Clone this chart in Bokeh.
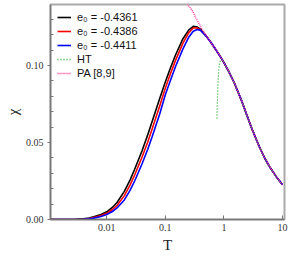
from bokeh.plotting import figure
from bokeh.models import FixedTicker, Range1d, NumeralTickFormatter
from bokeh.embed import file_html
from bokeh.resources import INLINE

# ---- data ----
T = [0.001, 0.002, 0.003, 0.004, 0.005, 0.006, 0.008, 0.01, 0.0125, 0.015,
     0.02, 0.025, 0.03, 0.04, 0.05, 0.06, 0.08, 0.1, 0.12, 0.15,
     0.2, 0.25, 0.3, 0.35, 0.4, 0.5, 0.6, 0.7, 0.8, 0.9, 1.0,
     1.2, 1.5, 2.0, 2.5, 3.0, 4.0, 5.0, 6.0, 8.0, 10.0]

chi_4361 = [0.0, 0.0, 0.0001, 0.0004, 0.0010, 0.0018, 0.0032, 0.0050, 0.0078, 0.0110,
            0.0183, 0.0256, 0.0326, 0.0445, 0.0548, 0.0639, 0.0784, 0.0893, 0.0976, 0.1070,
            0.1174, 0.1230, 0.1254, 0.1250, 0.1235, 0.1191, 0.1150, 0.1112, 0.1079, 0.1048, 0.1018,
            0.0964, 0.0888, 0.0772, 0.0670, 0.0589, 0.0474, 0.0396, 0.0343, 0.0272, 0.0226]

chi_4386 = [0.0, 0.0, 0.0, 0.0002, 0.0007, 0.0013, 0.0026, 0.0040, 0.0065, 0.0091,
            0.0155, 0.0223, 0.0289, 0.0404, 0.0502, 0.0591, 0.0736, 0.0852, 0.0938, 0.1035,
            0.1145, 0.1212, 0.1243, 0.1243, 0.1231, 0.1190, 0.1150, 0.1112, 0.1079, 0.1048, 0.1018,
            0.0964, 0.0888, 0.0772, 0.0670, 0.0589, 0.0474, 0.0396, 0.0343, 0.0272, 0.0226]

chi_4411 = [0.0, 0.0, 0.0, 0.0001, 0.0004, 0.0009, 0.0020, 0.0032, 0.0052, 0.0075,
            0.0127, 0.0189, 0.0250, 0.0360, 0.0455, 0.0541, 0.0684, 0.0810, 0.0895, 0.0995,
            0.1108, 0.1183, 0.1223, 0.1234, 0.1228, 0.1189, 0.1150, 0.1112, 0.1079, 0.1048, 0.1018,
            0.0964, 0.0888, 0.0772, 0.0670, 0.0589, 0.0474, 0.0396, 0.0343, 0.0272, 0.0226]

T_ht = [0.759, 0.774, 0.789, 0.815, 0.847, 0.906, 1.0, 1.2, 1.5, 2.0, 2.5, 3.0, 4.0, 5.0, 6.0, 8.0, 10.0]
chi_ht = [0.0656, 0.0773, 0.0870, 0.0968, 0.1020, 0.1045, 0.1018, 0.0964, 0.0888, 0.0772, 0.0670,
          0.0589, 0.0474, 0.0396, 0.0343, 0.0272, 0.0226]

T_pa = [0.23, 0.24, 0.27, 0.3, 0.33, 0.37, 0.42, 0.5, 0.6, 0.7, 0.8, 0.9, 1.0, 1.2, 1.5, 2.0, 2.5,
        3.0, 4.0, 5.0, 6.0, 8.0, 10.0]
chi_pa = [0.1425, 0.1396, 0.1372, 0.1345, 0.1310, 0.1278, 0.1238, 0.1192, 0.1150, 0.1112,
          0.1079, 0.1048, 0.1018, 0.0964, 0.0888, 0.0772, 0.0670, 0.0589, 0.0474, 0.0396,
          0.0343, 0.0272, 0.0226]

x_ticks = [0.01, 0.1, 1, 10]
x_labels = ["0.01", "0.1", "1", "10"]
y_ticks = [0.0, 0.05, 0.10]
y_minor = [0.01, 0.02, 0.03, 0.04, 0.06, 0.07, 0.08, 0.09, 0.11, 0.12, 0.13]

p = figure(width=288, height=256, x_axis_type="log", output_backend="svg",
           toolbar_location=None, x_range=Range1d(0.0011, 10.8), y_range=Range1d(0, 0.1396),
           min_border_left=50, min_border_right=4, min_border_top=4, min_border_bottom=37)

p.line(T, chi_4361, line_color="black", line_width=1.6, legend_label="e\u2080 = -0.4361")
p.line(T, chi_4386, line_color="#ff0000", line_width=1.6, legend_label="e\u2080 = -0.4386")
p.line(T, chi_4411, line_color="#0000ff", line_width=1.6, legend_label="e\u2080 = -0.4411")
p.line(T_ht, chi_ht, line_color="#22aa22", line_width=1.3, line_dash="1 2", legend_label="HT")
p.line(T_pa, chi_pa, line_color="#ff3399", line_width=1.4, line_dash="1 1", legend_label="PA [8,9]")

p.grid.visible = False
p.background_fill_color = "white"
p.outline_line_color = "#aaaaaa"
p.outline_line_width = 2

serif = "Liberation Serif"
for ax in (p.xaxis[0], p.yaxis[0]):
    ax.axis_line_color = "#777777"
    ax.axis_line_width = 1.5
    ax.major_tick_line_color = "#777777"
    ax.minor_tick_line_color = "#777777"
    ax.major_label_text_font = serif
    ax.major_label_text_font_size = "10px"
    ax.major_label_text_color = "#333333"
    ax.axis_label_text_font = serif
    ax.axis_label_text_font_style = "normal"
    ax.axis_label_text_font_size = "15px"
    ax.axis_label_text_color = "#222222"

xa = p.xaxis[0]
xa.ticker = FixedTicker(ticks=x_ticks)
xa.major_label_overrides = {t: l for t, l in zip(x_ticks, x_labels)}
xa.major_tick_in = 4
xa.major_tick_out = 0
xa.minor_tick_in = 0
xa.minor_tick_out = 0
xa.major_label_standoff = 4
xa.axis_label = "T"
xa.axis_label_standoff = 3

ya = p.yaxis[0]
ya.ticker = FixedTicker(ticks=y_ticks, minor_ticks=y_minor)
ya.formatter = NumeralTickFormatter(format="0.00")
ya.major_tick_in = 0
ya.major_tick_out = 3
ya.minor_tick_in = 3
ya.minor_tick_out = 0
ya.major_label_standoff = 4
ya.axis_label = "\u03c7"
ya.axis_label_standoff = 2

lg = p.legend[0]
lg.location = (5, 137)
lg.border_line_alpha = 0
lg.background_fill_alpha = 0
lg.margin = 0
lg.padding = 2
lg.spacing = 0
lg.label_height = 14
lg.glyph_height = 14
lg.glyph_width = 14
lg.label_standoff = 6
lg.label_text_font = "Liberation Sans"
lg.label_text_font_size = "11px"
lg.label_text_color = "#111111"

open("out.html", "w").write(file_html(p, INLINE))
